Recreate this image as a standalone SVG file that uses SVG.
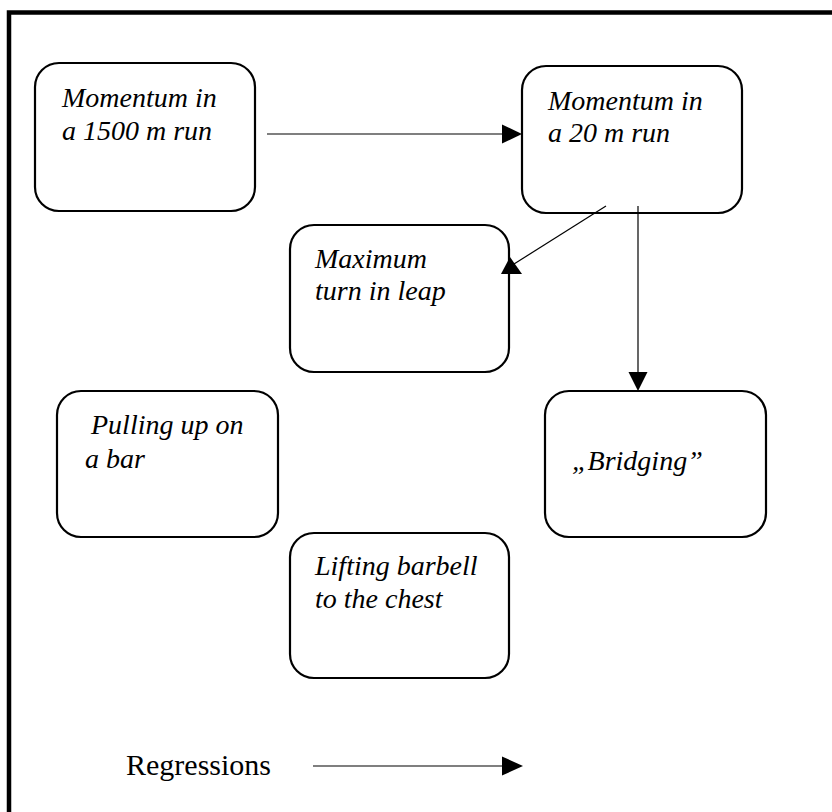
<svg xmlns="http://www.w3.org/2000/svg" width="832" height="812" viewBox="0 0 832 812">
<style>
.box{fill:#fff;stroke:#000;stroke-width:2.2}
.t{font-family:"Liberation Serif","Times New Roman",serif;font-style:italic;font-size:28px;fill:#000}
.r{font-family:"Liberation Serif","Times New Roman",serif;font-size:30px;fill:#000}
.ln{stroke:#000;stroke-width:1.2;fill:none}
.ah{fill:#000}
</style>
<rect width="832" height="812" fill="#fff"/>
<rect x="9" y="12.5" width="840" height="820" fill="none" stroke="#000" stroke-width="4.5"/>
<g id="n1">
<rect class="box" x="35" y="63" width="220" height="148" rx="24"/>
<text class="t" x="62" y="107">Momentum in</text>
<text class="t" x="62" y="140">a 1500 m run</text>
</g>
<g id="n2">
<rect class="box" x="522" y="66" width="220" height="147" rx="24"/>
<text class="t" x="548" y="110">Momentum in</text>
<text class="t" x="548" y="142">a 20 m run</text>
</g>
<g id="n3">
<rect class="box" x="290" y="225" width="219" height="147" rx="24"/>
<text class="t" x="315" y="268">Maximum</text>
<text class="t" x="315" y="300">turn in leap</text>
</g>
<g id="n4">
<rect class="box" x="57" y="391" width="221" height="146" rx="24"/>
<text class="t" x="91" y="434">Pulling up on</text>
<text class="t" x="85" y="468">a bar</text>
</g>
<g id="n5">
<rect class="box" x="545" y="391" width="221" height="146" rx="24"/>
<text class="t" x="572" y="470">„Bridging”</text>
</g>
<g id="n6">
<rect class="box" x="290" y="533" width="219" height="145" rx="24"/>
<text class="t" x="315" y="575">Lifting barbell</text>
<text class="t" x="315" y="608">to the chest</text>
</g>
<g id="connectors">
<line class="ln" x1="267" y1="134" x2="504" y2="134"/>
<polygon class="ah" points="522,134 502,124.5 502,143.5"/>
<line class="ln" x1="606" y1="206" x2="514" y2="264"/>
<polygon class="ah" points="510,257 501,274 522,274"/>
<line class="ln" x1="638" y1="206" x2="638" y2="374"/>
<polygon class="ah" points="638,391 628.5,372 647.5,372"/>
</g>
<g id="legend">
<text class="r" x="126" y="775">Regressions</text>
<line class="ln" x1="313" y1="766" x2="504" y2="766"/>
<polygon class="ah" points="523,766 502,756.5 502,775.5"/>
</g>
</svg>
